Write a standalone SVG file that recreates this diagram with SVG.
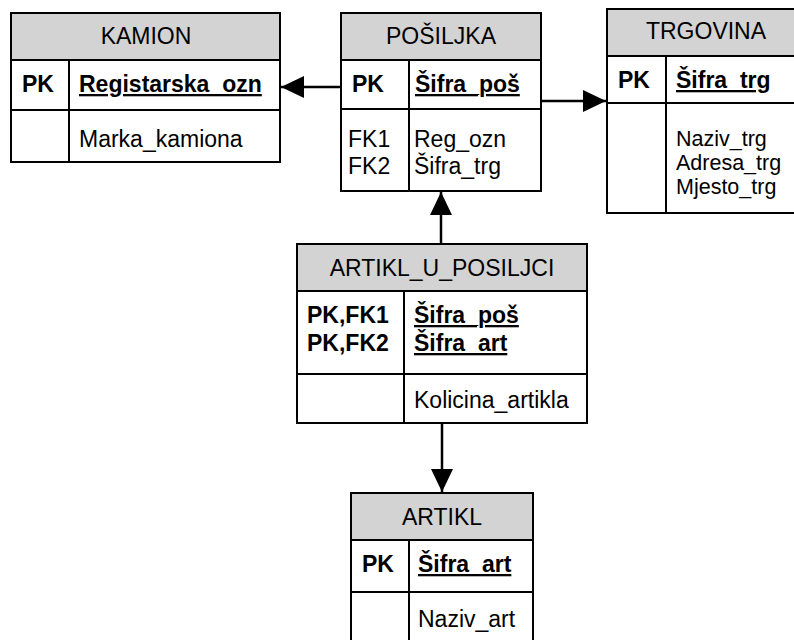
<svg xmlns="http://www.w3.org/2000/svg" width="794" height="640" viewBox="0 0 794 640">
<style>
.box{fill:#fff;stroke:#000;stroke-width:2}
.hdr{fill:#d3d3d3;stroke:#000;stroke-width:2}
.ln{stroke:#000;stroke-width:2;fill:none}
text{font-family:"Liberation Sans",Arial,sans-serif;font-size:23px;fill:#000}
.t{text-anchor:middle}
.b{font-weight:bold}
.u{font-weight:bold;text-decoration:underline}
.s{font-size:21.5px}
.conn{stroke:#000;stroke-width:2.5;fill:none;marker-end:url(#ah)}
</style>
<defs>
<marker id="ah" markerUnits="userSpaceOnUse" markerWidth="24" markerHeight="24" viewBox="0 0 24 24" refX="23" refY="12" orient="auto">
<path d="M0,1 L23,12 L0,23 Z" fill="#000"/>
</marker>
</defs>
<rect x="0" y="0" width="794" height="640" fill="#fff"/>

<g id="kamion">
<rect class="box" x="11" y="13" width="269" height="149"/>
<rect class="hdr" x="11" y="13" width="269" height="47"/>
<line class="ln" x1="11" y1="110" x2="280" y2="110"/>
<line class="ln" x1="69" y1="60" x2="69" y2="162"/>
<text class="t" x="146" y="44">KAMION</text>
<text class="b" x="22" y="92">PK</text>
<text class="u" x="79" y="92">Registarska_ozn</text>
<text x="79" y="147">Marka_kamiona</text>
</g>

<g id="posiljka">
<rect class="box" x="341" y="13" width="200" height="178"/>
<rect class="hdr" x="341" y="13" width="200" height="47"/>
<line class="ln" x1="341" y1="109" x2="541" y2="109"/>
<line class="ln" x1="409" y1="60" x2="409" y2="191"/>
<text class="t" x="441" y="44">POŠILJKA</text>
<text class="b" x="352" y="92">PK</text>
<text class="u" x="415" y="92">Šifra_poš</text>
<text x="348" y="147">FK1</text>
<text x="348" y="174">FK2</text>
<text x="414" y="147">Reg_ozn</text>
<text x="414" y="174">Šifra_trg</text>
</g>

<g id="trgovina">
<rect class="box" x="607" y="9" width="200" height="204"/>
<rect class="hdr" x="607" y="9" width="200" height="47"/>
<line class="ln" x1="607" y1="103" x2="807" y2="103"/>
<line class="ln" x1="666" y1="56" x2="666" y2="213"/>
<text class="t" x="706" y="39">TRGOVINA</text>
<text class="b" x="618" y="88">PK</text>
<text class="u" x="676" y="88">Šifra_trg</text>
<text class="s" x="676" y="146">Naziv_trg</text>
<text class="s" x="676" y="170">Adresa_trg</text>
<text class="s" x="676" y="194">Mjesto_trg</text>
</g>

<g id="artikl_u_posiljci">
<rect class="box" x="297" y="244" width="290" height="179"/>
<rect class="hdr" x="297" y="244" width="290" height="47"/>
<line class="ln" x1="297" y1="374" x2="587" y2="374"/>
<line class="ln" x1="404" y1="291" x2="404" y2="423"/>
<text class="t" x="442" y="276">ARTIKL_U_POSILJCI</text>
<text class="b" x="307" y="323">PK,FK1</text>
<text class="b" x="307" y="351">PK,FK2</text>
<text class="u" x="414" y="323">Šifra_poš</text>
<text class="u" x="414" y="351">Šifra_art</text>
<text x="414" y="408">Kolicina_artikla</text>
</g>

<g id="artikl">
<rect class="box" x="351" y="493" width="182" height="160"/>
<rect class="hdr" x="351" y="493" width="182" height="47"/>
<line class="ln" x1="351" y1="592" x2="533" y2="592"/>
<line class="ln" x1="409" y1="540" x2="409" y2="653"/>
<text class="t" x="442" y="525">ARTIKL</text>
<text class="b" x="362" y="572">PK</text>
<text class="u" x="418" y="572">Šifra_art</text>
<text x="418" y="627">Naziv_art</text>
</g>

<g id="connectors">
<line class="conn" x1="341" y1="87" x2="281" y2="87"/>
<line class="conn" x1="541" y1="101" x2="606" y2="101"/>
<line class="conn" x1="441" y1="244" x2="441" y2="192"/>
<line class="conn" x1="442" y1="423" x2="442" y2="492"/>
</g>
</svg>
